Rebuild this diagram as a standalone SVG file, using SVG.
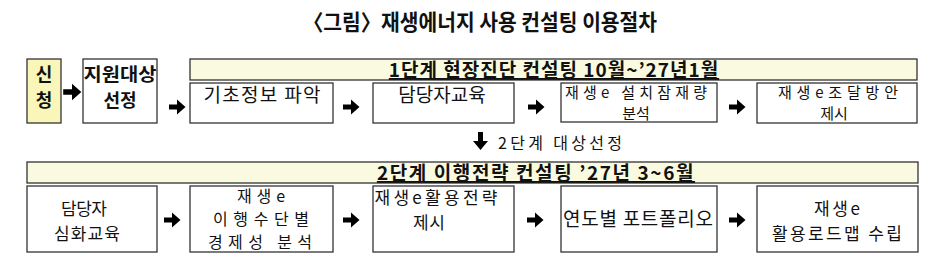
<svg xmlns="http://www.w3.org/2000/svg" width="952" height="262" viewBox="0 0 952 262">
<defs>
<style>
text{font-family:"Noto Sans CJK KR","Noto Sans",sans-serif;fill:#111;}
.t{font-size:19px;}
.m{font-size:17px;}
.n{font-size:16px;}
.s{font-size:15px;}
.b{font-size:18px;font-weight:bold;}
.h{font-size:19px;font-weight:bold;text-decoration:underline;letter-spacing:1px;}
.title{font-size:22px;font-weight:bold;}
.box{fill:#fff;stroke:#333;stroke-width:1.3;}
.hdr{fill:#fafae0;stroke:#333;stroke-width:1.3;}
.req{fill:#faf6b9;stroke:#333;stroke-width:1.3;}
.arr{fill:#000;}
</style>
<path id="ar" d="M-8,-2.5H0V-7.5L8.5,0L0,7.5V2.5H-8Z"/>
</defs>
<rect width="952" height="262" fill="#fff"/>
<text id="title" class="title" x="303" y="30" textLength="354" lengthAdjust="spacingAndGlyphs">〈그림〉재생에너지 사용 컨설팅 이용절차</text>

<g id="req">
<rect class="req" x="27" y="59" width="34" height="64"/>
<text class="b" x="44" y="81" text-anchor="middle">신</text>
<text class="b" x="44" y="107" text-anchor="middle">청</text>
</g>
<g id="select">
<rect class="box" x="83" y="59" width="74" height="64"/>
<text class="b" x="120" y="81" text-anchor="middle" textLength="73" lengthAdjust="spacingAndGlyphs">지원대상</text>
<text class="b" x="120" y="107" text-anchor="middle">선정</text>
</g>
<g id="stage1">
<rect class="hdr" x="190" y="59" width="727" height="21"/>
<text class="h" x="554" y="77" text-anchor="middle">1단계 현장진단 컨설팅 10월~’27년1월</text>
</g>
<g id="s1a">
<rect class="box" x="190" y="83" width="143" height="40"/>
<text class="t" x="262" y="102" text-anchor="middle" textLength="117">기초정보 파악</text>
</g>
<g id="s1b">
<rect class="box" x="373" y="83" width="141" height="40"/>
<text class="t" x="442" y="102" text-anchor="middle">담당자교육</text>
</g>
<g id="s1c">
<rect class="box" x="561" y="83" width="156" height="39"/>
<text class="s" x="636" y="98" text-anchor="middle" textLength="142">재생e 설치잠재량</text>
<text class="s" x="636" y="119" text-anchor="middle">분석</text>
</g>
<g id="s1d">
<rect class="box" x="757" y="83" width="160" height="40"/>
<text class="s" x="838" y="98" text-anchor="middle" textLength="120">재생e조달방안</text>
<text class="s" x="834" y="119" text-anchor="middle">제시</text>
</g>
<g id="between">
<path class="arr" d="M478,132H483V141H488L480.5,150L473,141H478Z"/>
<text class="n" x="498" y="149" textLength="124">2단계 대상선정</text>
</g>
<g id="stage2">
<rect class="hdr" x="27" y="162" width="891" height="21"/>
<text class="h" x="536" y="180" text-anchor="middle" style="letter-spacing:1.6px">2단계 이행전략 컨설팅 ’27년 3~6월</text>
</g>
<g id="s2a">
<rect class="box" x="27" y="186" width="130" height="66"/>
<text class="m" x="84" y="215" text-anchor="middle" textLength="46">담당자</text>
<text class="m" x="87" y="240" text-anchor="middle" textLength="66">심화교육</text>
</g>
<g id="s2b">
<rect class="box" x="190" y="186" width="143" height="66"/>
<text class="n" x="261" y="202" text-anchor="middle" textLength="48">재생e</text>
<text class="n" x="261" y="225" text-anchor="middle" textLength="96">이행수단별</text>
<text class="n" x="260" y="248" text-anchor="middle" textLength="104">경제성 분석</text>
</g>
<g id="s2c">
<rect class="box" x="373" y="186" width="141" height="66"/>
<text class="m" x="436" y="204" text-anchor="middle" textLength="123">재생e활용전략</text>
<text class="m" x="429" y="229" text-anchor="middle" textLength="32">제시</text>
</g>
<g id="s2d">
<rect class="box" x="561" y="186" width="156" height="66"/>
<text class="t" x="638" y="226" text-anchor="middle" textLength="150">연도별 포트폴리오</text>
</g>
<g id="s2e">
<rect class="box" x="757" y="186" width="161" height="66"/>
<text class="m" x="837" y="215" text-anchor="middle" textLength="46">재생e</text>
<text class="m" x="837" y="240" text-anchor="middle" textLength="130">활용로드맵 수립</text>
</g>

<g id="connectors">
<use href="#ar" class="arr" transform="translate(72,92) scale(1.1)"/>
<use href="#ar" class="arr" transform="translate(177,107)"/>
<use href="#ar" class="arr" transform="translate(351,107)"/>
<use href="#ar" class="arr" transform="translate(536,107)"/>
<use href="#ar" class="arr" transform="translate(737,107)"/>
<use href="#ar" class="arr" transform="translate(172,220)"/>
<use href="#ar" class="arr" transform="translate(351,220)"/>
<use href="#ar" class="arr" transform="translate(535,220)"/>
<use href="#ar" class="arr" transform="translate(737,220)"/>
</g>
</svg>
